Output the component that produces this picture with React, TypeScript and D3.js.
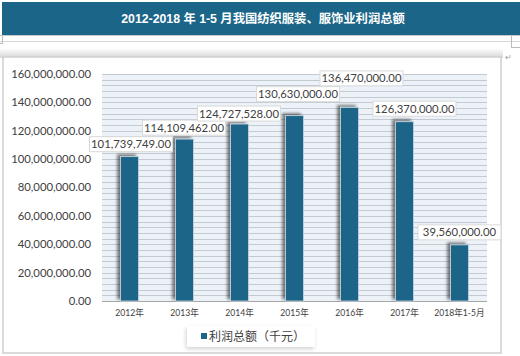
import React from 'react';
import * as d3 from 'd3';

const categories = ['2012年', '2013年', '2014年', '2015年', '2016年', '2017年', '2018年1-5月'];
const values = [101739749, 114109462, 124727528, 130630000, 136470000, 126370000, 39560000];
const yTicks = [0, 20000000, 40000000, 60000000, 80000000, 100000000, 120000000, 140000000, 160000000];
const title = '2012-2018 年 1-5 月我国纺织服装、服饰业利润总额';
const legendLabel = '利润总额（千元）';

// label placement offsets (layout only)
const labelDx = [1.5, -0.5, -0.5, 3.5, 12, 10, 0];
const labelDy = [-12.5, -11.5, -10.5, -21.5, -29, -13, -12.5];

const W = 520, H = 356;
const plot = { left: 102, right: 487, top: 74, bottom: 301 };
const barColor = '#1b6588';
const fmt = d3.format(',.2f');
const font = 'Lato, "Noto Sans CJK SC", sans-serif';

export default function App() {
  const x = d3.scaleBand().domain(categories).range([plot.left, plot.right]).paddingInner(0).paddingOuter(0);
  const y = d3.scaleLinear().domain([0, 160000000]).range([plot.bottom, plot.top]);
  const minor = d3.range(0, 160000001, 4000000);
  const barW = 18;

  return (
    <svg width={W} height={H} style={{ position: 'absolute', left: 0, top: 0, background: '#fff' }}>
      <defs>
        <filter id="barShadow" x="-60%" y="-10%" width="200%" height="120%">
          <feGaussianBlur in="SourceAlpha" stdDeviation="1.8" />
          <feOffset dx="-3.5" dy="-2" result="b" />
          <feComponentTransfer>
            <feFuncA type="linear" slope="0.5" />
          </feComponentTransfer>
          <feMerge>
            <feMergeNode />
            <feMergeNode in="SourceGraphic" />
          </feMerge>
        </filter>
        <filter id="boxShadow" x="-10%" y="-30%" width="120%" height="160%">
          <feGaussianBlur in="SourceAlpha" stdDeviation="2" />
          <feOffset dx="-1" dy="2" />
          <feComponentTransfer>
            <feFuncA type="linear" slope="0.18" />
          </feComponentTransfer>
          <feMerge>
            <feMergeNode />
            <feMergeNode in="SourceGraphic" />
          </feMerge>
        </filter>
        <linearGradient id="topShade" x1="0" y1="0" x2="0" y2="1">
          <stop offset="0" stopColor="#ffffff" />
          <stop offset="1" stopColor="#d6d6d6" />
        </linearGradient>
      </defs>

      {/* title banner */}
      <rect x={2} y={2} width={518} height={33} fill={barColor} />
      <text x={263} y={22.5} textAnchor="middle" fill="#fff" fontSize={12.3} fontWeight="bold"
        fontFamily='"Liberation Sans", Arial, "Noto Sans CJK SC", sans-serif'>{title}</text>
      <line x1={0} x2={520} y1={35.5} y2={35.5} stroke="#c8c8c8" />
      <line x1={0} x2={520} y1={41.5} y2={41.5} stroke="#d8d8d8" />
      <line x1={2.5} x2={2.5} y1={36} y2={44} stroke="#bbb" />
      <line x1={0} x2={3} y1={43.5} y2={43.5} stroke="#bbb" />
      <line x1={511.5} x2={511.5} y1={36} y2={48} stroke="#bbb" />
      <line x1={511} x2={520} y1={47.5} y2={47.5} stroke="#bbb" />

      {/* chart frame */}
      <rect x={0} y={48} width={503} height={10} fill="url(#topShade)" />
      <rect x={3} y={57} width={498} height={296} fill="#fff" stroke="#cfcfcf" strokeWidth={1.5} />
      <text x={505} y={60} fontSize={8} fill="#999" fontFamily={font}>↵</text>

      {/* plot background + grid */}
      <rect x={plot.left} y={plot.top} width={plot.right - plot.left} height={plot.bottom - plot.top} fill="#ecf2f7" />
      {minor.map((v) => (
        <line key={v} x1={plot.left} x2={plot.right} y1={Math.round(y(v)) + 0.5} y2={Math.round(y(v)) + 0.5}
          stroke="#c2cad2" strokeWidth={1} />
      ))}
      <line x1={plot.left} x2={plot.right} y1={plot.bottom + 0.5} y2={plot.bottom + 0.5} stroke="#a6a6a6" />

      {/* y axis labels */}
      {yTicks.map((v) => (
        <text key={v} x={91} y={y(v)} dy="0.35em" textAnchor="end" fontSize={11.3} fill="#404040" fontFamily={font}>
          {fmt(v)}
        </text>
      ))}

      {/* bars */}
      {values.map((v, i) => {
        const cx = (x(categories[i]) as number) + x.bandwidth() / 2;
        return (
          <rect key={i} x={cx - barW / 2} y={y(v)} width={barW} height={plot.bottom - y(v)}
            fill={barColor} stroke="#c9d6e0" strokeWidth={0.8} filter="url(#barShadow)" />
        );
      })}

      {/* x labels */}
      {categories.map((c) => (
        <text key={c} x={(x(c) as number) + x.bandwidth() / 2} y={316} textAnchor="middle" fontSize={8.6}
          fill="#404040" fontFamily={font}>{c}</text>
      ))}

      {/* data labels */}
      {values.map((v, i) => {
        const cx = (x(categories[i]) as number) + x.bandwidth() / 2 + labelDx[i];
        const cy = y(v) + labelDy[i];
        const bw = 83, bh = 15;
        return (
          <g key={i}>
            <rect x={cx - bw / 2} y={cy - bh / 2} width={bw} height={bh} fill="#fff" stroke="#d9d9d9" strokeWidth={1} />
            <text x={cx} y={cy} dy="0.36em" textAnchor="middle" fontSize={11.3} fill="#404040" fontFamily={font}>{fmt(v)}</text>
          </g>
        );
      })}

      {/* legend */}
      <g filter="url(#boxShadow)">
        <rect x={187} y={326} width={128} height={21} fill="#fff" />
      </g>
      <rect x={201} y={333} width={6} height={6} fill={barColor} />
      <text x={209} y={336.5} dy="0.36em" fontSize={12} fill="#404040" fontFamily='"Noto Sans CJK SC", sans-serif'>{legendLabel}</text>
    </svg>
  );
}
